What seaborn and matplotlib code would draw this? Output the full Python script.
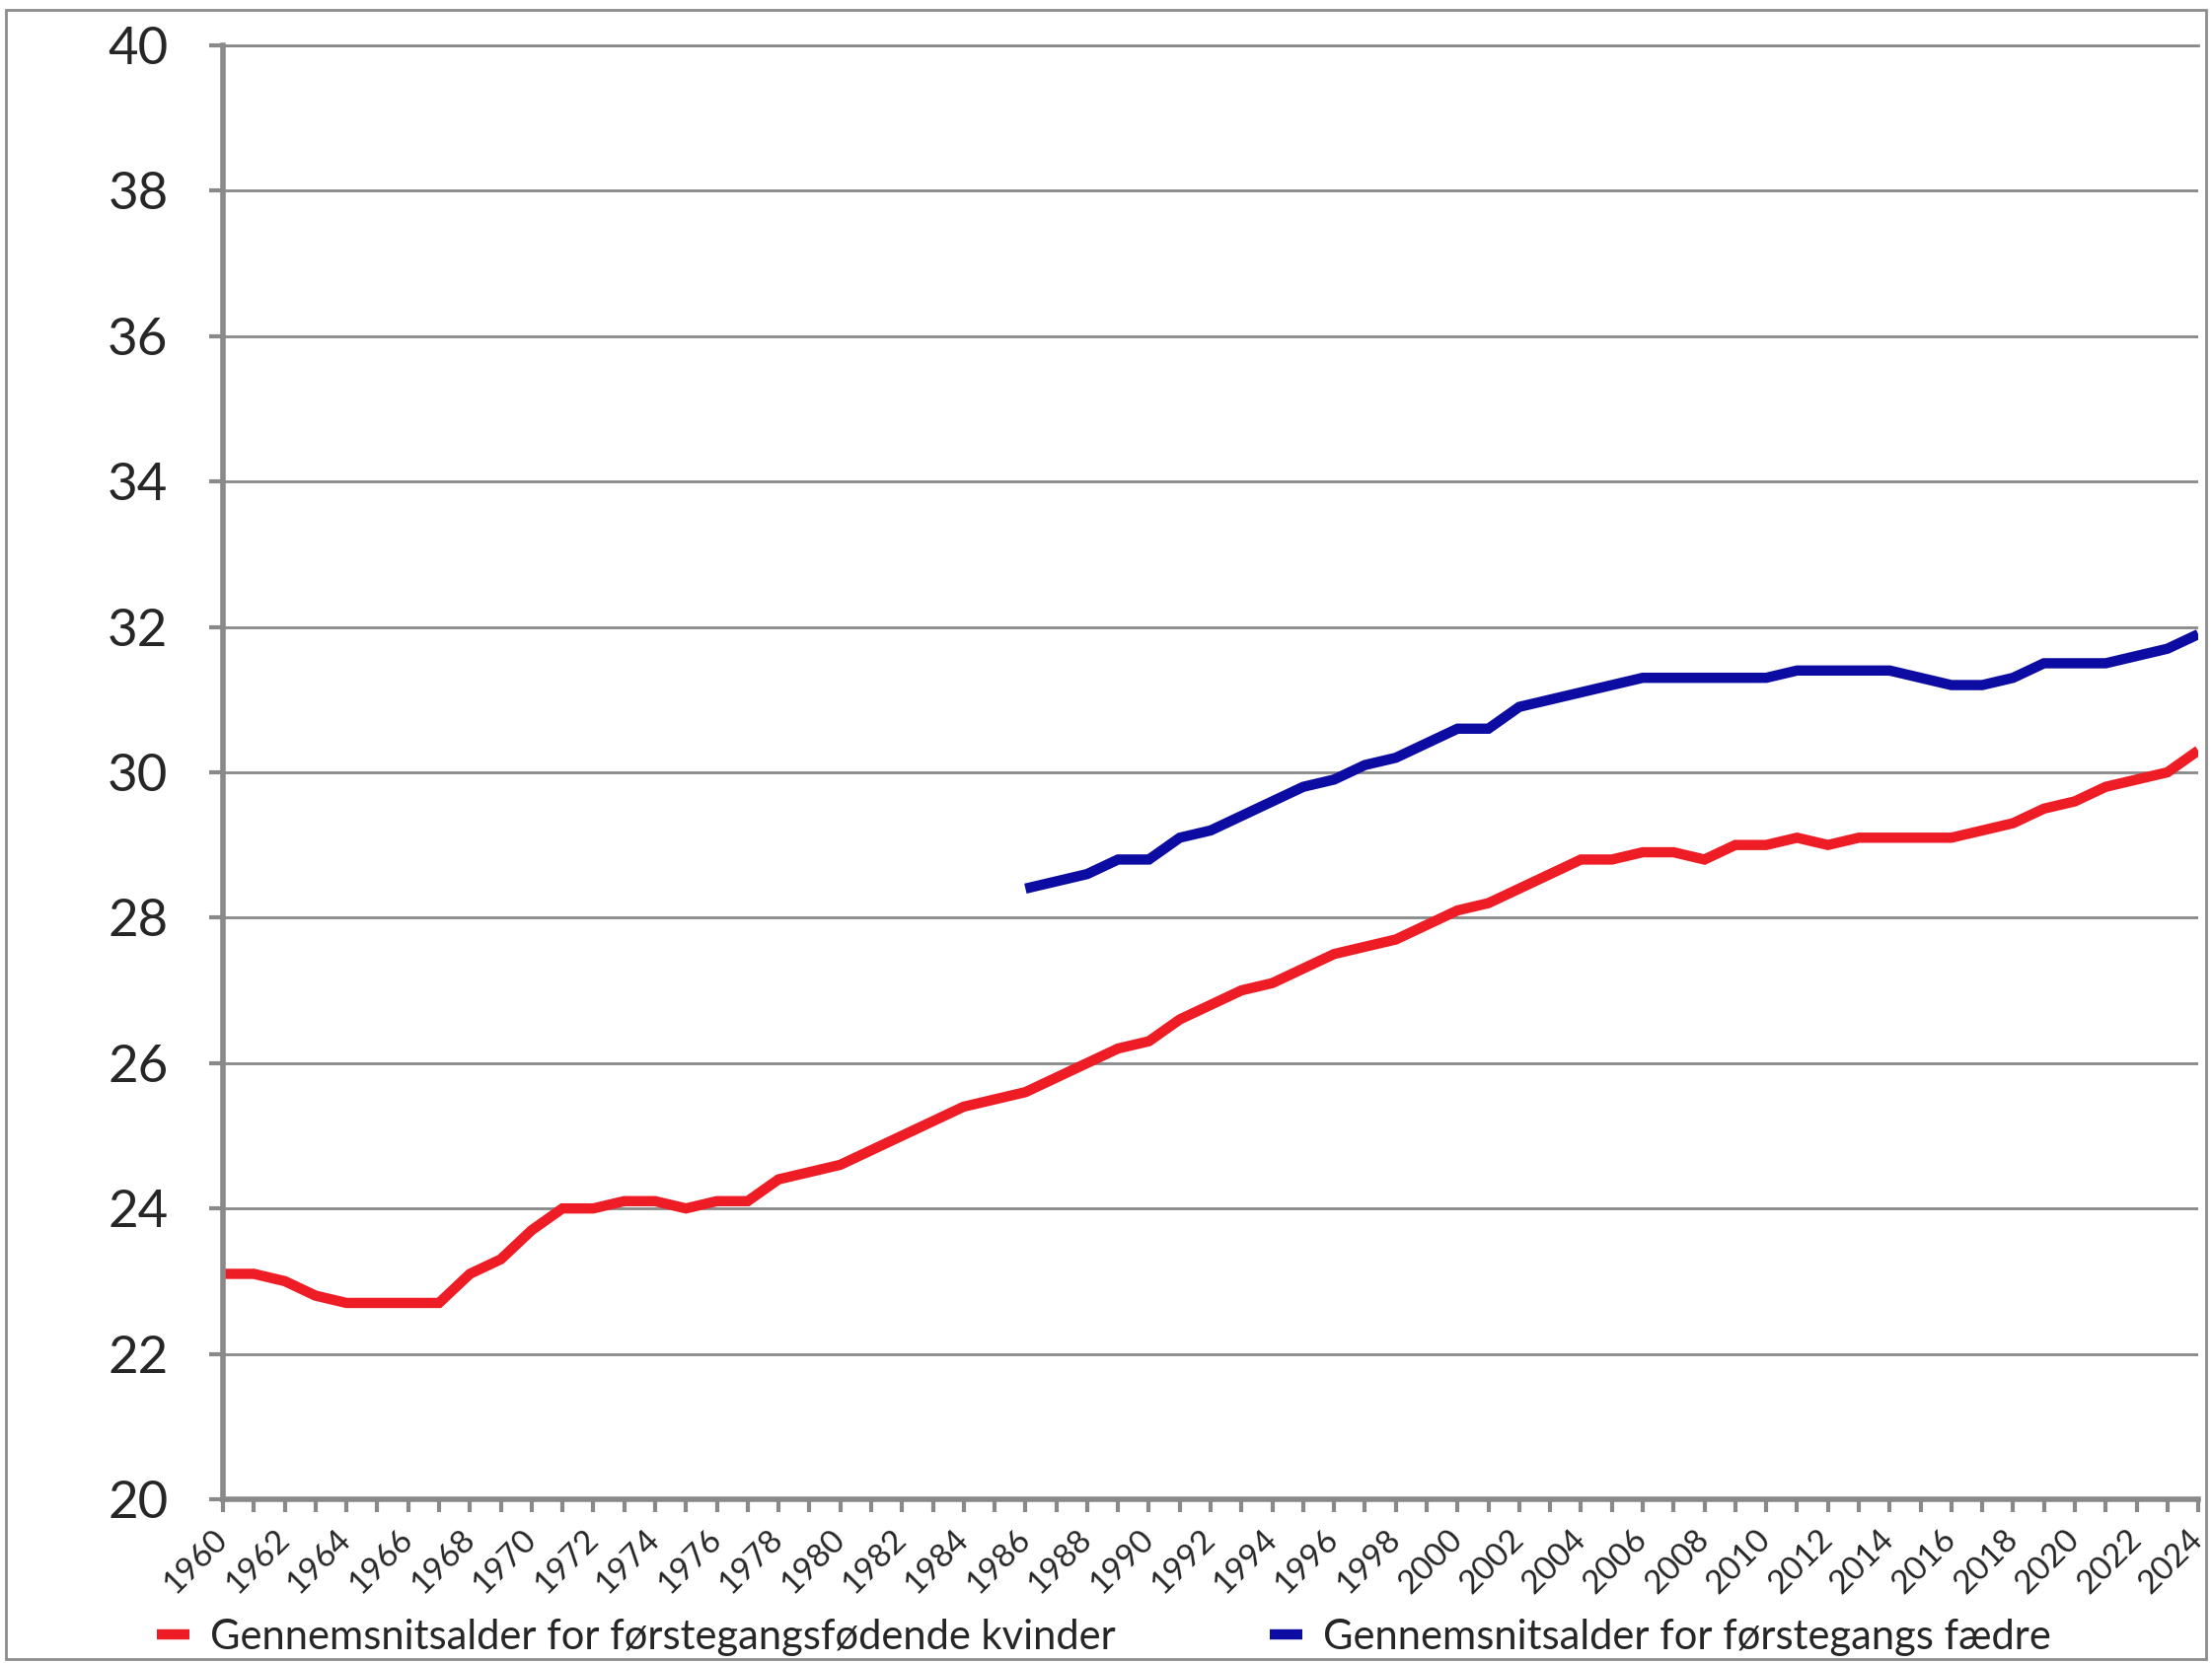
import pandas as pd
import matplotlib.pyplot as plt
import seaborn as sns
from matplotlib.patches import Rectangle

# Data
years_women = list(range(1960, 2025))
age_women = [23.1, 23.1, 23.0, 22.8, 22.7, 22.7, 22.7, 22.7, 23.1, 23.3,
             23.7, 24.0, 24.0, 24.1, 24.1, 24.0, 24.1, 24.1, 24.4, 24.5,
             24.6, 24.8, 25.0, 25.2, 25.4, 25.5, 25.6, 25.8, 26.0, 26.2,
             26.3, 26.6, 26.8, 27.0, 27.1, 27.3, 27.5, 27.6, 27.7, 27.9,
             28.1, 28.2, 28.4, 28.6, 28.8, 28.8, 28.9, 28.9, 28.8, 29.0,
             29.0, 29.1, 29.0, 29.1, 29.1, 29.1, 29.1, 29.2, 29.3, 29.5,
             29.6, 29.8, 29.9, 30.0, 30.3]

years_men = list(range(1986, 2025))
age_men = [28.4, 28.5, 28.6, 28.8, 28.8, 29.1, 29.2, 29.4, 29.6, 29.8,
           29.9, 30.1, 30.2, 30.4, 30.6, 30.6, 30.9, 31.0, 31.1, 31.2,
           31.3, 31.3, 31.3, 31.3, 31.3, 31.4, 31.4, 31.4, 31.4, 31.3,
           31.2, 31.2, 31.3, 31.5, 31.5, 31.5, 31.6, 31.7, 31.9]

label_women = "Gennemsnitsalder for førstegangsfødende kvinder"
label_men = "Gennemsnitsalder for førstegangs fædre"

y_ticks = list(range(20, 42, 2))
x_labels = list(range(1960, 2025, 2))

women_df = pd.DataFrame({"year": years_women, "age": age_women})
men_df = pd.DataFrame({"year": years_men, "age": age_men})

sns.set_style("white")
plt.rcParams['font.family'] = ['Lato', 'DejaVu Sans']

grey = "#898989"
fig = plt.figure(figsize=(22.42, 16.86), dpi=100)
ax = fig.add_axes([0.1008, 0.0985, 0.8930, 0.8742])

sns.lineplot(data=women_df, x="year", y="age", color="#ee1c25", linewidth=7.5,
             label=label_women, ax=ax, solid_joinstyle="miter",
             solid_capstyle="butt")
sns.lineplot(data=men_df, x="year", y="age", color="#0c0ca3", linewidth=7.5,
             label=label_men, ax=ax, solid_joinstyle="miter",
             solid_capstyle="butt")

ax.set_xlim(1960, 2024)
ax.set_ylim(20, 40)
ax.set_yticks(y_ticks)
ax.set_yticklabels([str(v) for v in y_ticks], fontsize=38)
ax.set_xticks(x_labels)
ax.set_xticklabels([str(v) for v in x_labels], fontsize=24, rotation=45,
                   ha="right", va="center", rotation_mode="anchor")
ax.set_xticks(range(1960, 2025), minor=True)
ax.set_xlabel("")
ax.set_ylabel("")

ax.yaxis.grid(True, color=grey, linewidth=2)
ax.set_axisbelow(True)
ax.tick_params(axis="y", direction="out", length=10, width=3, color=grey,
               pad=30, left=True)
ax.tick_params(axis="x", which="both", direction="out", length=9, width=3,
               color=grey, pad=17, bottom=True)

for side in ["left", "bottom"]:
    ax.spines[side].set_color(grey)
    ax.spines[side].set_linewidth(4)
ax.spines["right"].set_visible(False)
ax.spines["top"].set_color(grey)
ax.spines["top"].set_linewidth(2)

ax.legend(loc="center left", bbox_to_anchor=(-0.042, -0.095), ncol=2,
          frameon=False, fontsize=30, handlelength=0.8, handletextpad=0.5,
          columnspacing=3.75, borderaxespad=0)

# thin grey frame around the whole chart
fig.patches.append(Rectangle((0.0025, 0.0025), 0.995, 0.9915,
                             transform=fig.transFigure, fill=False,
                             edgecolor="#8c8c8c", linewidth=2))

fig.savefig("out.png", dpi=100)
